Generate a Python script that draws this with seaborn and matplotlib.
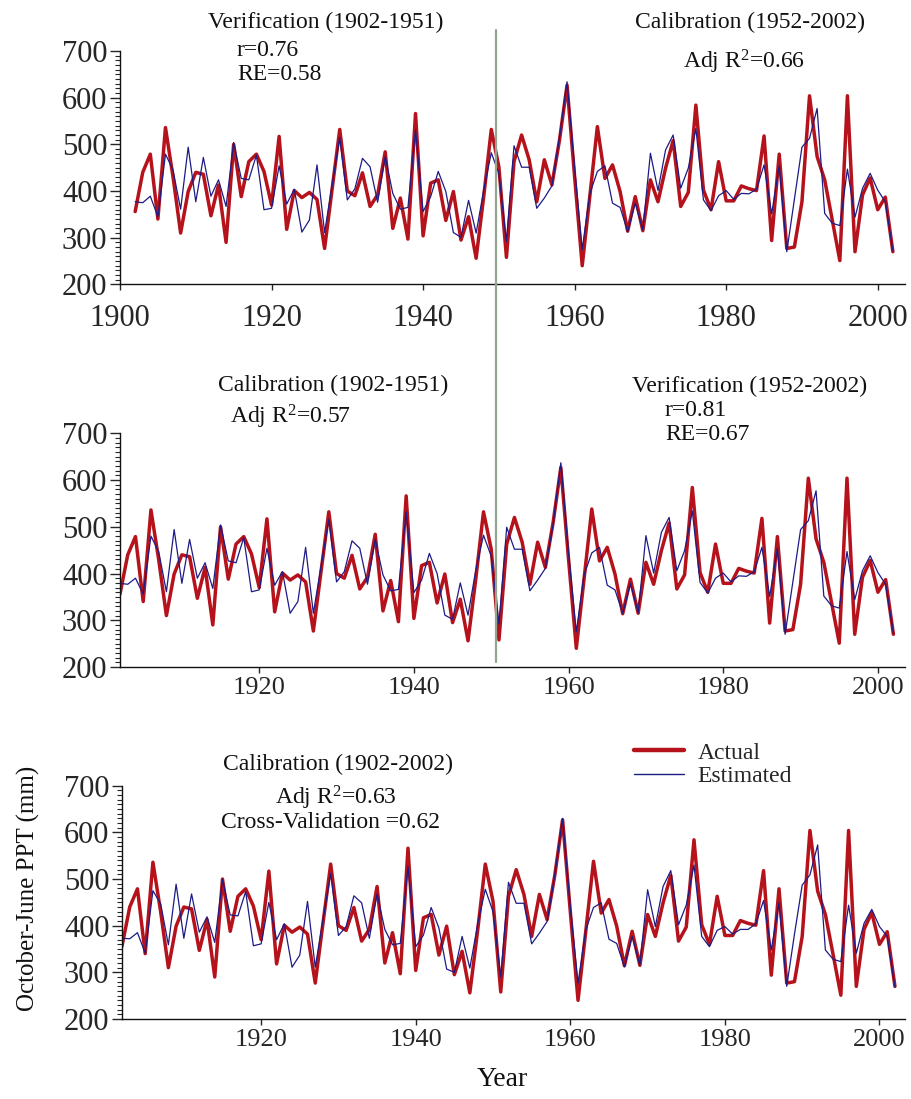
import matplotlib
matplotlib.use("Agg")
import matplotlib.pyplot as plt
import matplotlib.transforms as mtransforms
from matplotlib.lines import Line2D
from matplotlib.ticker import MultipleLocator
import pandas as pd
import seaborn as sns

years = list(range(1902, 2003))

# October-June precipitation (mm)
actual = [
    356, 440, 479, 340, 536, 430, 310, 399, 440, 436,
    347, 413, 290, 500, 388, 463, 479, 442, 370, 517,
    318, 401, 386, 397, 382, 277, 405, 532, 400, 390,
    439, 367, 392, 484, 320, 385, 297, 566, 304, 417,
    424, 337, 399, 295, 345, 256, 388, 532, 452, 258,
    463, 520, 467, 377, 467, 413, 509, 627, 430, 240,
    388, 538, 427, 456, 399, 314, 388, 315, 424, 377,
    449, 508, 367, 397, 584, 402, 360, 463, 379, 379,
    411, 405, 401, 518, 294, 479, 277, 280, 377, 604,
    474, 424, 338, 251, 604, 270, 392, 428, 360, 387, 270,
]

# estimated, model calibrated on 1952-2002
est_late_cal = [
    377, 375, 389, 345, 479, 445, 361, 494, 377, 472,
    389, 424, 367, 504, 427, 424, 477, 360, 363, 454,
    372, 404, 312, 338, 456, 311, 413, 515, 381, 405,
    470, 452, 376, 474, 395, 361, 365, 531, 356, 388,
    442, 399, 311, 301, 380, 310, 402, 482, 438, 292,
    497, 451, 451, 363, 385, 411, 515, 634, 450, 275,
    394, 442, 454, 374, 365, 313, 374, 317, 481, 401,
    488, 520, 406, 449, 534, 381, 358, 390, 401, 382,
    395, 394, 404, 456, 351, 454, 270, 382, 494, 513,
    577, 352, 331, 326, 447, 344, 406, 438, 402, 377, 272,
]

# estimated, model calibrated on 1902-1951
est_early_cal = [
    379, 377, 390, 356, 480, 447, 361, 494, 379, 473,
    390, 423, 368, 504, 427, 423, 477, 361, 365, 454,
    375, 404, 315, 340, 456, 315, 416, 516, 382, 404,
    470, 454, 377, 473, 397, 363, 366, 532, 359, 386,
    443, 400, 311, 302, 380, 311, 407, 482, 437, 292,
    499, 452, 452, 363, 386, 411, 505, 637, 443, 275,
    397, 444, 456, 375, 365, 315, 379, 316, 481, 401,
    488, 520, 406, 449, 534, 381, 358, 390, 401, 382,
    395, 394, 404, 456, 351, 454, 270, 382, 494, 513,
    577, 352, 331, 326, 447, 344, 406, 438, 402, 377, 272,
]

# estimated, model calibrated on 1902-2002
est_full_cal = [
    373, 372, 385, 341, 475, 447, 359, 489, 373, 468,
    386, 419, 364, 499, 423, 421, 473, 357, 361, 450,
    370, 404, 311, 337, 452, 311, 412, 512, 379, 398,
    464, 449, 373, 468, 392, 359, 362, 527, 355, 380,
    439, 395, 307, 300, 377, 309, 402, 478, 430, 290,
    493, 448, 448, 361, 384, 409, 510, 630, 440, 277,
    391, 439, 449, 371, 362, 312, 377, 316, 477, 398,
    484, 518, 402, 444, 530, 377, 355, 390, 398, 382,
    392, 392, 404, 454, 348, 449, 270, 382, 487, 509,
    573, 348, 328, 323, 444, 341, 405, 435, 398, 377, 268,
]

top_ticks = [1900, 1920, 1940, 1960, 1980, 2000]
low_ticks = [1920, 1940, 1960, 1980, 2000]

RED = "#b5121b"
BLUE = "#1d1b86"
SPLIT = "#93a590"
W, H = 912, 1099
FS = 17

sns.set_style("ticks")
plt.rcParams["font.family"] = ["Liberation Serif", "DejaVu Serif"]
plt.rcParams["mathtext.fontset"] = "custom"
plt.rcParams["mathtext.rm"] = "Liberation Serif"
plt.rcParams["mathtext.it"] = "Liberation Serif:italic"

fig = plt.figure(figsize=(W / 100, H / 100), dpi=100)


def px_axes(left, right, top, bottom):
    return fig.add_axes([left / W, 1 - bottom / H, (right - left) / W, (bottom - top) / H])


def px_text(x, y, s, ha="center", va="center", size=FS, **kw):
    fig.text(x / W, 1 - y / H, s, ha=ha, va=va, fontsize=size, color="#111111", **kw)


def draw_panel(ax, est, xlim, ticks, xfs, yfs, xpad=3):
    df = pd.DataFrame({"year": years, "actual": actual, "est": est})
    sns.lineplot(data=df, x="year", y="actual", ax=ax, color=RED, linewidth=2.5)
    sns.lineplot(data=df, x="year", y="est", ax=ax, color=BLUE, linewidth=0.9)
    ax.set_xlim(*xlim)
    ax.set_ylim(200, 700)
    ax.set_xticks(ticks)
    ax.yaxis.set_major_locator(MultipleLocator(100))
    ax.yaxis.set_minor_locator(MultipleLocator(10))
    ax.tick_params(axis="x", labelsize=xfs, length=4, width=1, pad=xpad)
    ax.tick_params(axis="y", which="major", labelsize=yfs, length=7, width=1, pad=2)
    ax.tick_params(axis="y", which="minor", length=3.5, width=0.8)
    ax.set_xlabel("")
    ax.set_ylabel("")
    for side in ["top", "right"]:
        ax.spines[side].set_visible(False)
    for side in ["left", "bottom"]:
        ax.spines[side].set_linewidth(1.0)
        ax.spines[side].set_color("#111111")


ax1 = px_axes(120, 905, 51, 284.4)
draw_panel(ax1, est_late_cal, (1900, 2003.6), top_ticks, 22, 22, xpad=10)
ax2 = px_axes(120, 905, 433.3, 667)
draw_panel(ax2, est_early_cal, (1902, 2003.5), low_ticks, 19, 22)
ax3 = px_axes(122, 905, 785.7, 1019)
draw_panel(ax3, est_full_cal, (1902, 2003.3), low_ticks, 19, 22)

# split line between the two sub-periods, shared by the top two panels
trans = mtransforms.blended_transform_factory(ax1.transData, fig.transFigure)
fig.add_artist(Line2D([1949.6, 1949.6], [1 - 30 / H, 1 - 662 / H],
                      transform=trans, color=SPLIT, linewidth=1.6))

# panel statistics
px_text(326, 22, "Verification (1902-1951)")
px_text(237, 50, "r=0.76", ha="left")
px_text(237, 75, "RE=0.58", ha="left")
px_text(750, 22, "Calibration (1952-2002)")
px_text(744, 68, "Adj R$^2$=0.66", va="baseline")

px_text(333, 385, "Calibration (1902-1951)")
px_text(230, 424, "Adj R$^2$=0.57", ha="left", va="baseline")
px_text(750, 386, "Verification (1952-2002)")
px_text(665, 411, "r=0.81", ha="left")
px_text(665, 435, "RE=0.67", ha="left")

px_text(338, 764, "Calibration (1902-2002)")
px_text(336, 804, "Adj R$^2$=0.63", va="baseline")
px_text(331, 823, "Cross-Validation =0.62")

handles = [Line2D([], [], color=RED, linewidth=3.2),
           Line2D([], [], color=BLUE, linewidth=1.0)]
fig.legend(handles, ["Actual", "Estimated"], loc="upper left",
           bbox_to_anchor=(634 / W, 1 - 742 / H), frameon=False,
           borderpad=0, borderaxespad=0, handlelength=2.1,
           handletextpad=0.6, labelspacing=0.1, fontsize=FS)

px_text(28, 888, "October-June PPT (mm)", size=18, rotation=90)
px_text(502, 1080, "Year", size=20)

fig.savefig("out.png", dpi=100)
